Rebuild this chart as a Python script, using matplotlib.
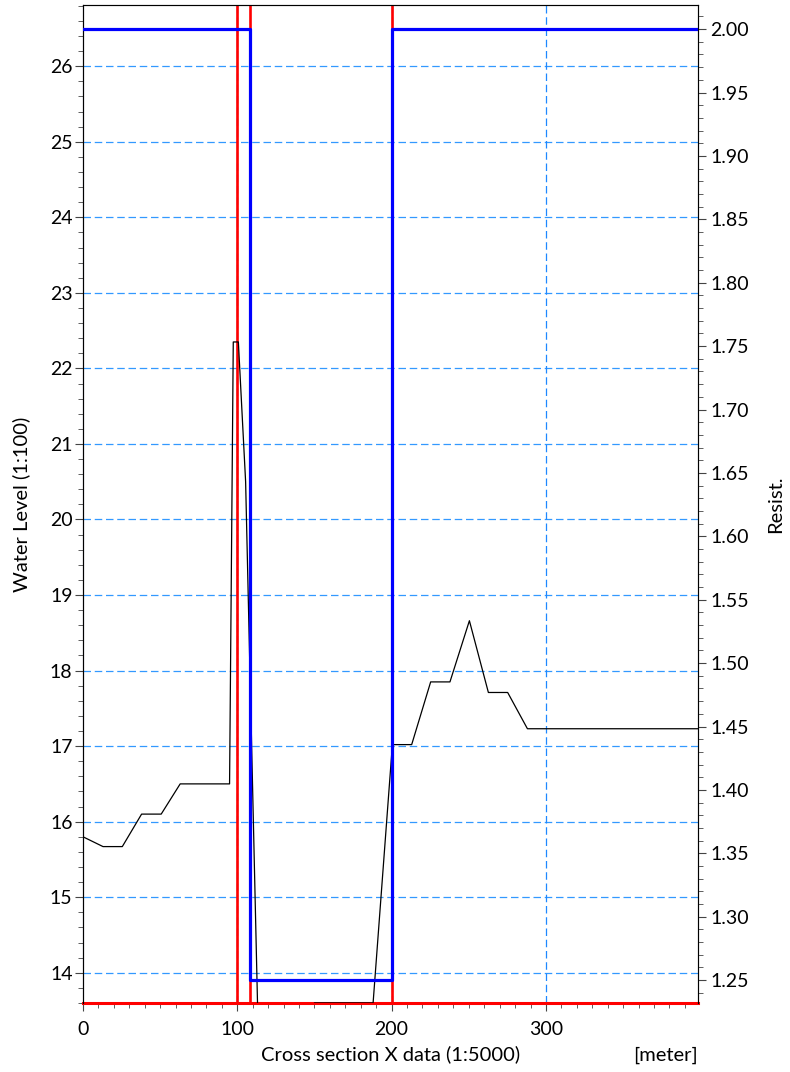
import matplotlib
matplotlib.use("Agg")
import matplotlib.pyplot as plt
from matplotlib.ticker import MultipleLocator, FormatStrFormatter

plt.rcParams['font.family'] = ['Lato', 'DejaVu Sans']

# Water level profile (left axis)
level_x = [0, 13, 25.5, 38, 50.7, 63, 75.4, 88, 95, 97.4, 100.7, 105.4, 114, 146, 150, 188,
           200.5, 213, 225.3, 237.8, 250.4, 262.7, 275.2, 288, 398.5]
level_y = [15.80, 15.67, 15.67, 16.10, 16.10, 16.50, 16.50, 16.50, 16.50, 22.35, 22.35, 20.5,
           12.8, 12.8, 13.6, 13.6, 17.02, 17.02, 17.85, 17.85, 18.66, 17.71, 17.71, 17.23, 17.23]

# Resistance (right axis)
res_x = [0, 108, 108, 200, 200, 398.5]
res_y = [2.0, 2.0, 1.25, 1.25, 2.0, 2.0]

# red marker lines
marker_x = [100, 108, 200]

xmin, xmax = 0, 398.5
ymin, ymax = 13.6, 26.81
rmin, rmax = 1.232, 2.019

fig = plt.figure(figsize=(7.9, 10.72), dpi=100)
ax = fig.add_axes([0.105, 0.0644, 0.7785, 0.9309])
ax.set_xlim(xmin, xmax)
ax.set_ylim(ymin, ymax)

# grid
for gy in range(14, 27):
    ax.axhline(gy, color='#3399ff', lw=0.9, ls=(0, (6, 3)), zorder=1)
for gx in [100, 200, 300]:
    ax.axvline(gx, color='#1e88ff', lw=0.9, ls=(0, (6, 3)), zorder=1)

# red markers
for mx in marker_x:
    ax.axvline(mx, color='#ff0000', lw=1.9, zorder=2)
ax.axhline(ymin, color='#ff0000', lw=2.2, zorder=2, clip_on=False)

ax.plot(level_x, level_y, color='black', lw=0.9, zorder=3)

ax.xaxis.set_major_locator(MultipleLocator(100))
ax.xaxis.set_minor_locator(MultipleLocator(10))
ax.yaxis.set_major_locator(MultipleLocator(1))
ax.yaxis.set_minor_locator(MultipleLocator(0.2))
ax.tick_params(axis='both', which='major', direction='out', length=6, labelsize=14, color='#444444')
ax.tick_params(axis='both', which='minor', direction='out', length=3.6, color='#444444')
ax.tick_params(axis='y', which='major', pad=1.5)
ax.tick_params(axis='x', which='major', pad=7)
ax.set_ylabel('Water Level (1:100)', fontsize=14.5, labelpad=14)
ax.set_xlabel('Cross section X data (1:5000)', fontsize=14.5, labelpad=5)
ax.text(1.0, -0.052, '[meter]', transform=ax.transAxes, ha='right', va='center', fontsize=14.5)

for s in ['top', 'right']:
    ax.spines[s].set_color('#555555')
ax.spines['left'].set_color('#111133')
ax.spines['bottom'].set_visible(False)

ax2 = ax.twinx()
ax2.set_ylim(rmin, rmax)
ax2.plot(res_x, res_y, color='#0000ff', lw=2.3, zorder=4)
ax2.yaxis.set_major_locator(MultipleLocator(0.05))
ax2.yaxis.set_minor_locator(MultipleLocator(0.01))
ax2.yaxis.set_major_formatter(FormatStrFormatter('%.2f'))
ax2.tick_params(axis='y', which='major', direction='out', length=6, labelsize=14, color='#444444', pad=3)
ax2.tick_params(axis='y', which='minor', direction='out', length=3.6, color='#444444')
ax2.set_ylabel('Resist.', fontsize=14.5, labelpad=13)
ax2.spines['bottom'].set_visible(False)

fig.savefig('out.png', dpi=100)
